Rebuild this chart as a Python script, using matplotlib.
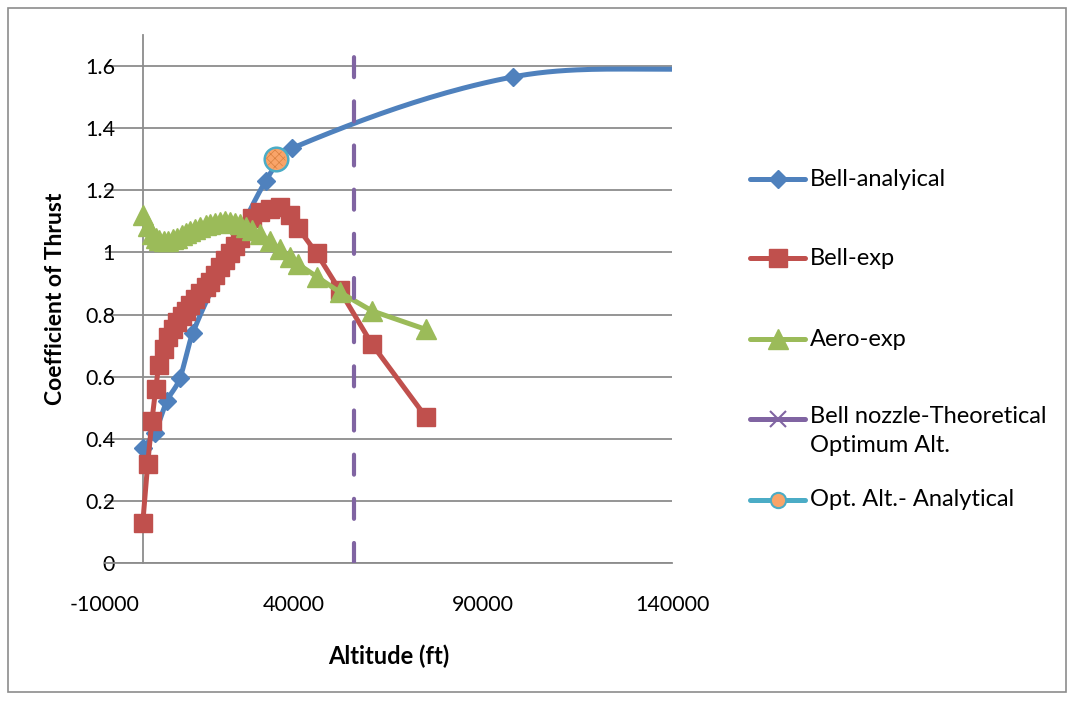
import numpy as np
import matplotlib
matplotlib.use("Agg")
import matplotlib.pyplot as plt
from matplotlib.lines import Line2D
from matplotlib.patches import Rectangle

plt.rcParams["font.family"] = ["Lato", "DejaVu Sans"]
plt.rcParams["hatch.linewidth"] = 0.5

BLUE = "#4F81BD"
RED = "#C0504D"
GREEN = "#9BBB59"
PURPLE = "#8064A2"
CYAN = "#4BACC6"
ORANGE = "#F9A469"
ORANGE_DARK = "#D9803F"
GRID = "#8C8C8C"

# Bell nozzle, analytical thrust coefficient vs altitude (ft)
bell_an_alt = [0, 3200, 6300, 9800, 13200, 23000, 32500, 39400, 97900, 150000]
bell_an_cf = [0.37, 0.42, 0.52, 0.595, 0.74, 1.00, 1.23, 1.335, 1.565, 1.592]

# test altitudes (ft), shared by both experimental runs
exp_alt = [0, 1300, 2400, 3400, 4200, 5600, 6600, 7900, 9000, 10300, 11400,
           12400, 13800, 15100, 16700, 17700, 19100, 20400, 21700, 23000,
           24300, 25700, 27300, 28800, 31000, 33600, 36300, 38900, 41000,
           46000, 52100, 60600, 74900]
bell_exp_cf = [0.13, 0.32, 0.457, 0.56, 0.637, 0.69, 0.727, 0.753, 0.776,
               0.795, 0.81, 0.83, 0.85, 0.87, 0.89, 0.905, 0.927, 0.953,
               0.975, 0.998, 1.02, 1.045, 1.075, 1.11, 1.13, 1.14, 1.145,
               1.12, 1.08, 0.997, 0.878, 0.705, 0.47]
aero_exp_cf = [1.12, 1.085, 1.06, 1.045, 1.04, 1.037, 1.038, 1.042, 1.048,
               1.055, 1.062, 1.068, 1.075, 1.082, 1.088, 1.092, 1.096, 1.099,
               1.10, 1.099, 1.096, 1.09, 1.082, 1.072, 1.058, 1.036, 1.01,
               0.985, 0.963, 0.922, 0.872, 0.812, 0.752]

# theoretical optimum altitude of the bell nozzle (vertical marker line)
theo_alt = [55800, 55800]
theo_cf = [0, 1.7]

# optimum altitude from the analytical model
opt_alt = [35200]
opt_cf = [1.30]

x_ticks = [-10000, 40000, 90000, 140000]
y_ticks = [0, 0.2, 0.4, 0.6, 0.8, 1.0, 1.2, 1.4, 1.6]
y_tick_labels = ["0", "0.2", "0.4", "0.6", "0.8", "1", "1.2", "1.4", "1.6"]

legend_labels = ["Bell-analyical", "Bell-exp", "Aero-exp",
                 "Bell nozzle-Theoretical\nOptimum Alt.", "Opt. Alt.- Analytical"]


def smooth(x, y, n=40):
    """Piecewise cubic Hermite through the points (centred-difference slopes)."""
    x = np.asarray(x, float)
    y = np.asarray(y, float)
    m = np.empty_like(y)
    m[1:-1] = (y[2:] - y[:-2]) / (x[2:] - x[:-2])
    m[0] = (y[1] - y[0]) / (x[1] - x[0])
    m[-1] = (y[-1] - y[-2]) / (x[-1] - x[-2])
    xs, ys = [], []
    for i in range(len(x) - 1):
        h = x[i + 1] - x[i]
        t = np.linspace(0, 1, n, endpoint=False)
        h00 = 2 * t**3 - 3 * t**2 + 1
        h10 = t**3 - 2 * t**2 + t
        h01 = -2 * t**3 + 3 * t**2
        h11 = t**3 - t**2
        xs.append(x[i] + t * h)
        ys.append(h00 * y[i] + h10 * h * m[i] + h01 * y[i + 1] + h11 * h * m[i + 1])
    xs.append([x[-1]])
    ys.append([y[-1]])
    return np.concatenate(xs), np.concatenate(ys)


W, H = 1071, 701
fig = plt.figure(figsize=(W / 100, H / 100), dpi=100)
ax = fig.add_axes([105 / W, 138 / H, 567 / W, 528 / H])

# Bell analytical: smoothed line + diamond markers
sx, sy = smooth(bell_an_alt, bell_an_cf)
ax.plot(sx, sy, color=BLUE, lw=3.6, solid_capstyle="round", zorder=3)
ax.plot(bell_an_alt, bell_an_cf, ls="none", marker="D", ms=9.5, color=BLUE, zorder=3)

ax.plot(exp_alt, bell_exp_cf, color=RED, lw=3.6, marker="s", ms=13,
        solid_joinstyle="round", zorder=4)
ax.plot(exp_alt, aero_exp_cf, color=GREEN, lw=3.6, marker="^", ms=14,
        solid_joinstyle="round", zorder=5)

ax.plot(theo_alt, theo_cf, color=PURPLE, lw=3.0, dashes=(4.8, 5.8),
        dash_capstyle="round", zorder=6)

ax.plot(opt_alt, opt_cf, ls="none", marker="o", ms=17, mfc=ORANGE, mec=CYAN,
        mew=1.8, zorder=7)
ax.scatter(opt_alt, opt_cf, s=190, facecolor="none", edgecolor=ORANGE_DARK,
           hatch="xxxx", linewidths=0, zorder=8)

ax.set_xlim(-10000, 140000)
ax.set_ylim(0, 1.7)
ax.set_xticks(x_ticks)
ax.set_xticklabels([str(v) for v in x_ticks])
ax.set_yticks(y_ticks)
ax.set_yticklabels(y_tick_labels)

for side in ("top", "right"):
    ax.spines[side].set_visible(False)
ax.spines["left"].set_position(("data", 0))
ax.spines["left"].set_color(GRID)
ax.spines["left"].set_linewidth(1.3)
ax.spines["bottom"].set_color(GRID)
ax.spines["bottom"].set_linewidth(1.3)
ax.grid(axis="y", color=GRID, lw=1.3)
ax.set_axisbelow(True)
ax.tick_params(axis="both", length=0, labelsize=15.5, colors="black")
ax.tick_params(axis="y", pad=20)
ax.tick_params(axis="x", pad=23)

ax.set_ylabel("Coefficient of Thrust", fontsize=16.5, fontweight="bold")
ax.yaxis.set_label_coords(-0.068, 0.5)
ax.set_xlabel("Altitude (ft)", fontsize=17, fontweight="bold")
ax.xaxis.set_label_coords(0.5, -0.155)


# legend drawn at fixed pixel positions on the right of the chart
def fx(px):
    return px / W


def fy(py):
    return 1 - py / H


leg_rows = [179, 258, 339, 419, 500]
leg_styles = [
    dict(color=BLUE, marker="D", ms=9.5),
    dict(color=RED, marker="s", ms=13),
    dict(color=GREEN, marker="^", ms=14),
    dict(color=PURPLE, marker="x", ms=12, mew=1.5),
    dict(color=CYAN, marker="o", ms=11, mfc=ORANGE, mec=CYAN, mew=1.5),
]
for row, label, style in zip(leg_rows, legend_labels, leg_styles):
    fig.add_artist(Line2D([fx(750), fx(777.5), fx(805)], [fy(row)] * 3,
                          transform=fig.transFigure, lw=3.6,
                          solid_capstyle="round", markevery=[1], **style))
    if "\n" in label:
        fig.text(fx(810), fy(row - 13), label, fontsize=17, va="top",
                 ha="left", linespacing=1.5)
    else:
        fig.text(fx(810), fy(row), label, fontsize=17, va="center", ha="left")

# chart-area border
fig.add_artist(Rectangle((fx(8), fy(692)), fx(1066) - fx(8), fy(8) - fy(692),
                         transform=fig.transFigure, fill=False,
                         edgecolor=GRID, lw=1.2))

fig.savefig("out.png", dpi=100)
